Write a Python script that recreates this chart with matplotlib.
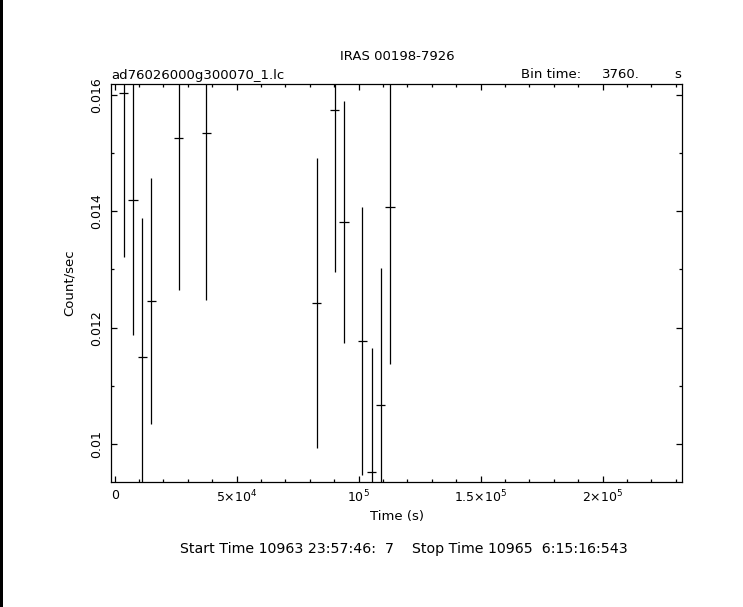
import matplotlib
matplotlib.use("Agg")
from matplotlib import pyplot as plt
from matplotlib.ticker import MultipleLocator, FixedLocator, FixedFormatter
from matplotlib.lines import Line2D

# light curve, bin time 3760 s
t = [3760, 7520, 11280, 15040, 26320, 37600, 82720, 90240, 94000,
     101520, 105280, 109040, 112800]
rate = [0.01603, 0.01419, 0.01150, 0.01246, 0.01526, 0.01535, 0.01243,
        0.01573, 0.01381, 0.01178, 0.00952, 0.01068, 0.01408]
rate_err = [0.00281, 0.00231, 0.00239, 0.00211, 0.00262, 0.00287, 0.00249,
            0.00278, 0.00208, 0.00230, 0.00214, 0.00234, 0.00271]
bin_half = 1880

x_ticks = [0, 50000, 100000, 150000, 200000]
x_labels = ["0", "5×10$^4$", "10$^5$", "1.5×10$^5$", "2×10$^5$"]
y_ticks = [0.010, 0.012, 0.014, 0.016]
y_labels = ["0.01", "0.012", "0.014", "0.016"]

fig = plt.figure(figsize=(7.43, 6.07), dpi=100)
ax = fig.add_axes([0.1494, 0.2059, 0.7685, 0.6557])

ax.errorbar(t, rate, yerr=rate_err, xerr=bin_half, fmt="none",
            ecolor="black", elinewidth=0.9, capsize=0)

ax.set_xlim(-1500, 232500)
ax.set_ylim(0.009352, 0.016184)

ax.xaxis.set_major_locator(FixedLocator(x_ticks))
ax.xaxis.set_major_formatter(FixedFormatter(x_labels))
ax.xaxis.set_minor_locator(MultipleLocator(10000))
ax.yaxis.set_major_locator(FixedLocator(y_ticks))
ax.yaxis.set_major_formatter(FixedFormatter(y_labels))
ax.yaxis.set_minor_locator(MultipleLocator(0.001))

ax.tick_params(which="both", direction="in", top=True, right=True,
               labelsize=9, width=0.9)
ax.tick_params(which="major", length=4.3)
ax.tick_params(which="minor", length=2.2)
ax.tick_params(axis="x", pad=5)
ax.tick_params(axis="y", pad=6)
for lab in ax.get_yticklabels():
    lab.set_rotation(90)
    lab.set_va("center")
for s in ax.spines.values():
    s.set_linewidth(0.9)

ax.set_xlabel("Time (s)", fontsize=9.5, labelpad=3)
ax.set_ylabel("Count/sec", fontsize=9.5, labelpad=10)

# header and footer texts
fig.text(397 / 743, 1 - 56 / 607, "IRAS 00198-7926", ha="center", va="center", fontsize=9.5)
fig.text(111 / 743, 1 - 75 / 607, "ad76026000g300070_1.lc", ha="left", va="center", fontsize=9.5)
fig.text(521 / 743, 1 - 75 / 607, "Bin time:", ha="left", va="center", fontsize=9.5)
fig.text(640 / 743, 1 - 75 / 607, "3760.", ha="right", va="center", fontsize=9.5)
fig.text(681 / 743, 1 - 75 / 607, "s", ha="right", va="center", fontsize=9.5)
fig.text(404 / 743, 1 - 549 / 607,
         "Start Time 10963 23:57:46:  7    Stop Time 10965  6:15:16:543",
         ha="center", va="center", fontsize=10.2)

# black line at the left edge of the window
fig.add_artist(Line2D([0.0015, 0.0015], [0, 1], color="black", linewidth=1.0,
                      antialiased=False, transform=fig.transFigure))

fig.savefig("out.png", dpi=100)
